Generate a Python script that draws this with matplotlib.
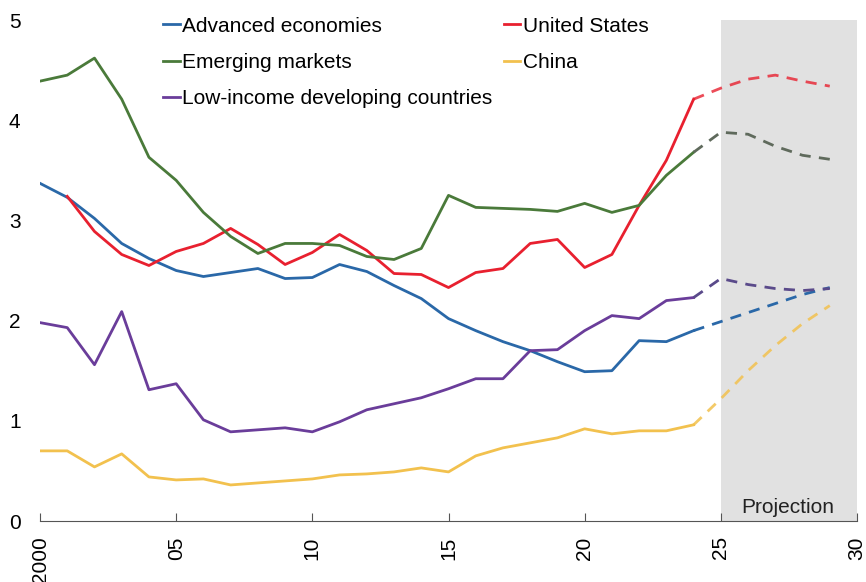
import matplotlib.pyplot as plt

plt.rcParams['font.family'] = ['Liberation Sans', 'DejaVu Sans']

# Actual data 2000-2024
years = list(range(2000, 2025))
proj_years = list(range(2024, 2030))

advanced = [3.37, 3.23, 3.02, 2.77, 2.62, 2.50, 2.44, 2.48, 2.52, 2.42,
            2.43, 2.56, 2.49, 2.35, 2.22, 2.02, 1.90, 1.79, 1.70, 1.59,
            1.49, 1.50, 1.80, 1.79, 1.90]
emerging = [4.39, 4.45, 4.62, 4.21, 3.63, 3.40, 3.08, 2.84, 2.67, 2.77,
            2.77, 2.75, 2.64, 2.61, 2.72, 3.25, 3.13, 3.12, 3.11, 3.09,
            3.17, 3.08, 3.15, 3.45, 3.68]
low_income = [1.98, 1.93, 1.56, 2.09, 1.31, 1.37, 1.01, 0.89, 0.91, 0.93,
              0.89, 0.99, 1.11, 1.17, 1.23, 1.32, 1.42, 1.42, 1.70, 1.71,
              1.90, 2.05, 2.02, 2.20, 2.23]
us_years = list(range(2001, 2025))
united_states = [3.24, 2.89, 2.66, 2.55, 2.69, 2.77, 2.92, 2.76, 2.56,
                 2.68, 2.86, 2.70, 2.47, 2.46, 2.33, 2.48, 2.52, 2.77, 2.81,
                 2.53, 2.66, 3.15, 3.60, 4.21]
china = [0.70, 0.70, 0.54, 0.67, 0.44, 0.41, 0.42, 0.36, 0.38, 0.40,
         0.42, 0.46, 0.47, 0.49, 0.53, 0.49, 0.65, 0.73, 0.78, 0.83,
         0.92, 0.87, 0.90, 0.90, 0.96]

# Projections 2024-2029
advanced_proj = [1.90, 1.99, 2.08, 2.17, 2.26, 2.33]
emerging_proj = [3.68, 3.88, 3.86, 3.74, 3.65, 3.61]
low_income_proj = [2.23, 2.42, 2.36, 2.32, 2.30, 2.32]
us_proj = [4.21, 4.32, 4.41, 4.45, 4.39, 4.34]
china_proj = [0.96, 1.22, 1.50, 1.75, 1.97, 2.15]

x_ticks = [2000, 2005, 2010, 2015, 2020, 2025, 2030]
x_labels = ['2000', '05', '10', '15', '20', '25', '30']

c_adv = '#2a68a8'
c_us = '#e8202f'
c_em = '#4a7a3a'
c_cn = '#f2c14e'
c_li = '#6a3d9a'

fig = plt.figure(figsize=(8.66, 5.82), dpi=100)
ax = fig.add_axes([0.0462, 0.1048, 0.9434, 0.8608])

ax.axvspan(2025, 2030, color='#e1e1e1', zorder=0, lw=0)

lw = 2.0
h_adv, = ax.plot(years, advanced, color=c_adv, lw=lw, label='Advanced economies')
h_us, = ax.plot(us_years, united_states, color=c_us, lw=lw, label='United States')
h_em, = ax.plot(years, emerging, color=c_em, lw=lw, label='Emerging markets')
h_cn, = ax.plot(years, china, color=c_cn, lw=lw, label='China')
h_li, = ax.plot(years, low_income, color=c_li, lw=lw, label='Low-income developing countries')

dash = (0, (4, 3))
ax.plot(proj_years, advanced_proj, color=c_adv, lw=lw, ls=dash)
ax.plot(proj_years, us_proj, color=c_us, lw=lw, ls=dash, alpha=0.8)
ax.plot(proj_years, emerging_proj, color='#5f6a5c', lw=lw, ls=dash)
ax.plot(proj_years, china_proj, color=c_cn, lw=lw, ls=dash, alpha=0.85)
ax.plot(proj_years, low_income_proj, color='#5a4a8a', lw=lw, ls=dash)

ax.text(2027.45, 0.13, 'Projection', ha='center', va='center', fontsize=15, color='#222222')

ax.set_xlim(2000, 2030)
ax.set_ylim(0, 5)
ax.set_xticks(x_ticks)
ax.set_xticklabels(x_labels, rotation=90, fontsize=15)
ax.set_yticks([0, 1, 2, 3, 4, 5])
ax.tick_params(axis='y', length=0, labelsize=15, pad=14)
ax.tick_params(axis='x', direction='in', length=6, color='#555555', pad=11)

for side in ['top', 'right', 'left']:
    ax.spines[side].set_visible(False)
ax.spines['bottom'].set_color('#555555')

# row-major order: matplotlib fills legend columns first
ax.legend(handles=[h_adv, h_em, h_li, h_us, h_cn], ncol=2, loc='upper left',
          bbox_to_anchor=(0.1282, 1.044), frameon=False,
          fontsize=15, handlelength=0.77, handletextpad=0.12, columnspacing=0.58,
          labelspacing=0.82)

fig.savefig('out.png', dpi=100)
